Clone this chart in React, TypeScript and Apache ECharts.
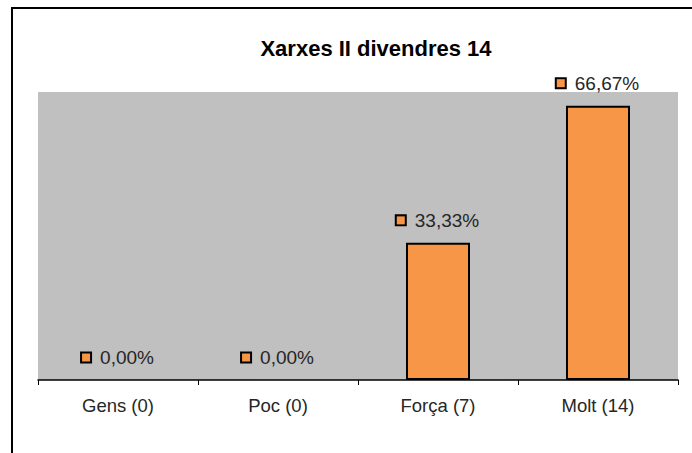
import React, { useEffect, useRef } from "react";
import * as echarts from "echarts";

const categories = ["Gens", "Poc", "Força", "Molt"];
const counts = [0, 0, 7, 14];
const percents = [0, 0, 33.33, 66.67];
const titleText = "Xarxes II divendres 14";

export default function App() {
  const ref = useRef<HTMLDivElement>(null);
  useEffect(() => {
    if (!ref.current) return;
    const chart = echarts.init(ref.current, null, { renderer: "svg" });
    const font = "'Liberation Sans', Arial, sans-serif";
    chart.setOption({
      animation: false,
      backgroundColor: "#ffffff",
      title: {
        text: titleText,
        left: 371,
        top: 32,
        textAlign: "center",
        textStyle: { fontFamily: font, fontSize: 22, fontWeight: "bold", color: "#000" },
      },
      graphic: [
        {
          type: "rect",
          shape: { x: 12, y: 8, width: 720, height: 500 },
          style: { fill: "none", stroke: "#000", lineWidth: 2 },
          silent: true,
        },
      ],
      grid: {
        left: 38,
        right: 14,
        top: 92,
        bottom: 73,
        show: true,
        backgroundColor: "#C0C0C0",
        borderWidth: 0,
      },
      xAxis: {
        type: "category",
        data: categories.map((c, i) => `${c} (${counts[i]})`),
        axisLine: { lineStyle: { color: "#000", width: 1.5 } },
        axisTick: { show: true, length: 5, lineStyle: { color: "#000", width: 1 } },
        axisLabel: { margin: 16, fontFamily: font, fontSize: 18.5, color: "#262626" },
        splitLine: { show: false },
      },
      yAxis: {
        type: "value",
        min: 0,
        max: 70,
        show: false,
        splitLine: { show: false },
      },
      series: [
        {
          type: "bar",
          data: percents.map((v) => ({
            value: v,
            itemStyle: v === 0 ? { borderWidth: 0 } : undefined,
          })),
          barWidth: "40%",
          itemStyle: { color: "#F79646", borderColor: "#000", borderWidth: 2 },
          label: {
            show: true,
            position: "top",
            distance: 13,
            formatter: (p: any) => `{sq| }{t|${Number(p.value).toFixed(2).replace(".", ",")}%}`,
            rich: {
              sq: {
                width: 8,
                height: 8,
                backgroundColor: "#F79646",
                borderColor: "#000",
                borderWidth: 2,
              },
              t: {
                fontFamily: font,
                fontSize: 19,
                color: "#262626",
                padding: [0, 0, 0, 10],
              },
            },
          },
        },
      ],
    });
    return () => chart.dispose();
  }, []);
  return (
    <div
      ref={ref}
      style={{ position: "fixed", left: 0, top: 0, width: 692, height: 453 }}
    />
  );
}
